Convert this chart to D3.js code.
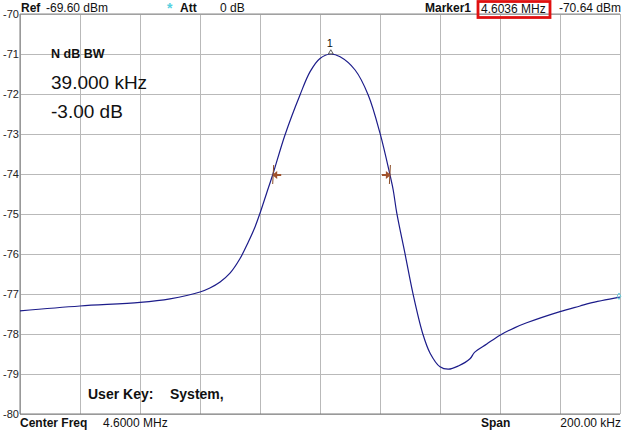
<!DOCTYPE html>
<html>
<head>
<meta charset="utf-8">
<script src="https://cdn.jsdelivr.net/npm/d3@7/dist/d3.min.js"></script>
<style>
  body { margin: 0; background: #fff; }
  svg { display: block; font-family: "Liberation Sans", Arial, sans-serif; }
  .grid line { stroke: #b9b9b9; }
  .grid path { display: none; }
  .ylab text { font-size: 11px; fill: #222; }
</style>
</head>
<body>
<script>
// Trace: frequency (MHz) and level (dBm).
var freqs = [4.5000, 4.5200, 4.5400, 4.5500, 4.5600, 4.5633, 4.5667, 4.5700,
  4.5733, 4.5761, 4.5783, 4.5800, 4.5822, 4.5844, 4.5883, 4.5933, 4.5967,
  4.6000, 4.6036, 4.6067, 4.6117, 4.6161, 4.6200, 4.6232, 4.6244, 4.6256,
  4.6283, 4.6311, 4.6342, 4.6367, 4.6400, 4.6428, 4.6461, 4.6500, 4.6515,
  4.6556, 4.6600, 4.6650, 4.6689, 4.6800, 4.6867, 4.6900, 4.7000];
var levels = [-77.42, -77.30, -77.21, -77.12, -76.95, -76.85, -76.70, -76.48,
  -76.12, -75.70, -75.33, -74.98, -74.48, -73.98, -73.03, -72.03, -71.44,
  -71.11, -71.00, -71.07, -71.40, -72.03, -72.98, -73.98, -74.40, -74.98,
  -75.98, -77.03, -77.98, -78.48, -78.82, -78.88, -78.80, -78.62, -78.46,
  -78.25, -78.03, -77.84, -77.72, -77.44, -77.30, -77.23, -77.08];

// Grid / tick values.
var freqTicks = [4.50, 4.52, 4.54, 4.56, 4.58, 4.60, 4.62, 4.64, 4.66, 4.68, 4.70];
var levelTicks = [-80, -79, -78, -77, -76, -75, -74, -73, -72, -71, -70];

// Markers.
var peakMarker = { freq: 4.6036, level: -71.00, label: "1" };
var ndbMarkers = [ { freq: 4.5844, dir: -1 }, { freq: 4.6233, dir: 1 } ];
var ndbLevel = -74.0;

var W = 626, H = 432;
var box = { left: 20, right: 620, top: 14, bottom: 414 };

var svg = d3.select("body").append("svg").attr("width", W).attr("height", H);

var x = d3.scaleLinear().domain([4.5, 4.7]).range([box.left, box.right]);
var y = d3.scaleLinear().domain([-80, -70]).range([box.bottom, box.top]);

// Vertical grid lines.
svg.append("g").attr("class", "grid")
  .attr("transform", "translate(0," + box.bottom + ")")
  .call(d3.axisBottom(x).tickValues(freqTicks).tickSize(-(box.bottom - box.top)).tickFormat(""));

// Horizontal grid lines.
svg.append("g").attr("class", "grid")
  .attr("transform", "translate(" + box.left + ",0)")
  .call(d3.axisLeft(y).tickValues(levelTicks).tickSize(-(box.right - box.left)).tickFormat(""));

// Level labels on the left.
var ylab = svg.append("g").attr("class", "ylab")
  .attr("transform", "translate(" + box.left + ",0)")
  .call(d3.axisLeft(y).tickValues(levelTicks).tickSize(0).tickPadding(1)
    .tickFormat(function (d) { return String(d); }));
ylab.select(".domain").remove();

// Darker frame on left, bottom and top.
svg.append("line").attr("x1", box.left).attr("x2", box.left)
  .attr("y1", box.top).attr("y2", box.bottom).attr("stroke", "#7a7a7a");
svg.append("line").attr("x1", box.left).attr("x2", box.right)
  .attr("y1", box.bottom).attr("y2", box.bottom).attr("stroke", "#7a7a7a");
svg.append("line").attr("x1", box.left).attr("x2", box.right)
  .attr("y1", box.top).attr("y2", box.top).attr("stroke", "#8a8a8a");

// The trace.
var pts = freqs.map(function (f, i) { return [f, levels[i]]; });
var line = d3.line()
  .x(function (d) { return x(d[0]); })
  .y(function (d) { return y(d[1]); })
  .curve(d3.curveCatmullRom.alpha(0.5));
svg.append("path").datum(pts).attr("d", line)
  .attr("fill", "none").attr("stroke", "#1c1c8a").attr("stroke-width", 1.2);

// Peak marker (small diamond + number).
svg.append("path")
  .attr("d", d3.symbol(d3.symbolTriangle, 10)())
  .attr("transform", "translate(" + x(peakMarker.freq) + "," + (y(peakMarker.level) - 1.5) + ")")
  .attr("fill", "#fff").attr("stroke", "#333").attr("stroke-width", 0.8);
svg.append("text").attr("x", x(peakMarker.freq) - 1).attr("y", y(peakMarker.level) - 7)
  .attr("text-anchor", "middle").attr("font-size", 11).attr("fill", "#111")
  .text(peakMarker.label);

// N dB bandwidth markers: vertical tick and arrow pointing outwards.
ndbMarkers.forEach(function (m) {
  var mx = x(m.freq), my = y(ndbLevel);
  svg.append("line").attr("x1", mx + 0.5).attr("x2", mx - 0.5)
    .attr("y1", my - 9).attr("y2", my + 10)
    .attr("stroke", "#8a4b25").attr("stroke-width", 1);
  var tip = mx + m.dir * 1, tail = mx - m.dir * 8;
  svg.append("line").attr("x1", tail).attr("x2", tip - m.dir * 3)
    .attr("y1", my + 1).attr("y2", my + 1)
    .attr("stroke", "#a0522d").attr("stroke-width", 2);
  svg.append("path")
    .attr("d", "M" + tip + "," + (my + 1) + "L" + (tip - m.dir * 5) + "," + (my - 3) +
      "L" + (tip - m.dir * 5) + "," + (my + 5) + "Z")
    .attr("fill", "#a0522d");
});

// Cyan trace-end marker on the right edge.
svg.append("path")
  .attr("d", d3.symbol(d3.symbolDiamond, 12)())
  .attr("transform", "translate(" + (x(freqs[freqs.length - 1]) - 1) + "," + (y(levels[levels.length - 1]) - 1) + ")")
  .attr("fill", "none").attr("stroke", "#5cc8d8").attr("stroke-width", 0.9);

// Text helper.
function txt(tx, ty, s, opt) {
  opt = opt || {};
  return svg.append("text").attr("x", tx).attr("y", ty)
    .attr("font-size", opt.size || 12)
    .attr("font-weight", opt.bold ? "bold" : null)
    .attr("text-anchor", opt.anchor || "start")
    .attr("fill", opt.fill || "#111")
    .text(s);
}

// Header line.
txt(21, 12, "Ref", { bold: true });
txt(46, 12, "-69.60 dBm");
txt(167, 13, "*", { fill: "#55d0e0", size: 14, bold: true });
txt(180, 12, "Att", { bold: true });
txt(220, 12, "0 dB");
txt(471, 12, "Marker1", { bold: true, anchor: "end" });
svg.append("rect").attr("x", 478).attr("y", 1.5).attr("width", 72).attr("height", 16)
  .attr("fill", "none").attr("stroke", "#e01010").attr("stroke-width", 2.8);
txt(481, 13, "4.6036 MHz");
txt(621, 12, "-70.64 dBm", { anchor: "end" });

// Footer line.
txt(20, 427, "Center Freq", { bold: true });
txt(103, 427, "4.6000 MHz");
txt(481, 427, "Span", { bold: true });
txt(621, 427, "200.00 kHz", { anchor: "end" });

// Measurement readout inside the plot.
txt(51, 58, "N dB BW", { bold: true, size: 12.5 });
txt(51, 89, "39.000 kHz", { size: 19 });
txt(51, 118, "-3.00 dB", { size: 19 });
txt(88, 399, "User Key:", { bold: true, size: 14 });
txt(170, 399, "System,", { bold: true, size: 14 });
</script>
</body>
</html>
